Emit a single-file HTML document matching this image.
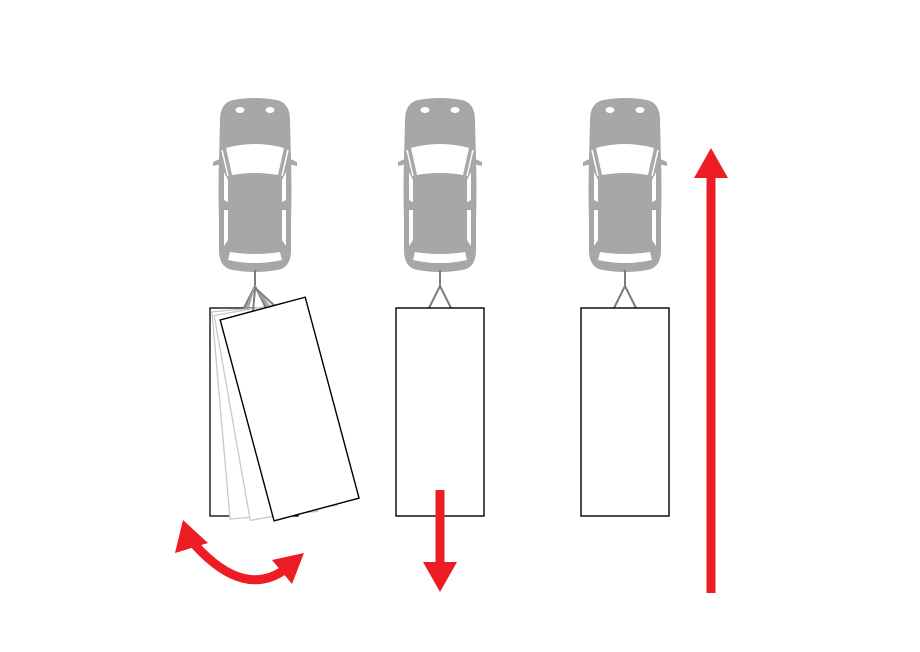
<!DOCTYPE html>
<html><head><meta charset="utf-8"><style>html,body{margin:0;padding:0;background:#fff}svg{display:block}</style></head>
<body>
<svg width="920" height="652" viewBox="0 0 920 652" xmlns="http://www.w3.org/2000/svg">
<defs>
<g id="car">
  <path d="M-33,58 L-42,62 L-42,66 L-33,64 Z" fill="#a6a8a8"/>
  <path d="M33,58 L42,62 L42,66 L33,64 Z" fill="#a6a8a8"/>
  <path d="M-22,0 Q0,-4 22,0 Q35,3 35,20 L36,60 Q37,90 36,120 L36,150 Q36,168 22,170 Q0,174 -22,170 Q-36,168 -36,150 L-36,120 Q-37,90 -36,60 L-35,20 Q-35,3 -22,0 Z" fill="#a6a8a8"/>
  <ellipse cx="-15" cy="10" rx="4.5" ry="3" fill="#fff"/>
  <ellipse cx="15" cy="10" rx="4.5" ry="3" fill="#fff"/>
  <path d="M-29,48 Q0,40 29,48 L23,75 Q0,71 -23,75 Z" fill="#fff"/>
  <path d="M-25,152 Q0,156 25,152 L27,160 Q0,166 -27,160 Z" fill="#fff"/>
  <path d="M-31,72 L-27,80 L-27,102 L-31,100 Z" fill="#fff"/>
  <path d="M31,72 L27,80 L27,102 L31,100 Z" fill="#fff"/>
  <path d="M-31,110 L-27,110 L-27,140 L-31,146 Z" fill="#fff"/>
  <path d="M31,110 L27,110 L27,140 L31,146 Z" fill="#fff"/>
  <path d="M-33,50 L-27,76" stroke="#fff" stroke-width="1.5"/>
  <path d="M33,50 L27,76" stroke="#fff" stroke-width="1.5"/>
</g>
<g id="hitch" fill="none" stroke="#7b7d7d" stroke-width="2">
  <path d="M0,170 L0,186 M-11,208 L0,186 L11,208"/>
</g>
</defs>

<g transform="translate(255,100)"><use href="#car"/></g>
<rect x="210" y="308" width="88" height="208" fill="none" stroke="#000" stroke-width="1.3"/>
<g transform="rotate(-5 255 288)"><rect x="210" y="308" width="88" height="208" fill="#fff" stroke="#c8c8c8" stroke-width="1.3"/></g>
<g transform="rotate(-10 255 288)"><rect x="210" y="308" width="88" height="208" fill="#fff" stroke="#c8c8c8" stroke-width="1.3"/></g>
<path d="M255,270 L255,286 M244,308 L255,286 L266,308" fill="none" stroke="#7b7d7d" stroke-width="2"/>
<g transform="rotate(-5 255 288)"><path d="M244,308 L255,286 L266,308" fill="none" stroke="#a0a0a0" stroke-width="1.5"/></g>
<g transform="rotate(-10 255 288)"><path d="M244,308 L255,286 L266,308" fill="none" stroke="#a0a0a0" stroke-width="1.5"/></g>
<g transform="translate(3.5,1) rotate(-15 255 288)">
  <path d="M244,308 L252,286 L266,308" fill="none" stroke="#7b7d7d" stroke-width="2"/>
  <rect x="210" y="308" width="88" height="208" fill="#fff" stroke="#000" stroke-width="1.4"/>
</g>

<g transform="translate(440,100)"><use href="#car"/><use href="#hitch"/></g>
<rect x="396" y="308" width="88" height="208" fill="#fff" stroke="#000" stroke-width="1.4"/>

<g transform="translate(625,100)"><use href="#car"/><use href="#hitch"/></g>
<rect x="581" y="308" width="88" height="208" fill="#fff" stroke="#000" stroke-width="1.4"/>

<g fill="#ee1c25">
  <rect x="706.5" y="176" width="9" height="417"/>
  <polygon points="711,148 694,178 728,178"/>
  <rect x="435.5" y="490" width="9" height="74"/>
  <polygon points="440,592 423,562 457,562"/>
  <path d="M195,545 Q245,600 287,568" fill="none" stroke="#ee1c25" stroke-width="9"/>
  <polygon points="183,520 175,553 208,543"/>
  <polygon points="304,553 272,560 292,584"/>
</g>
</svg>
</body></html>
